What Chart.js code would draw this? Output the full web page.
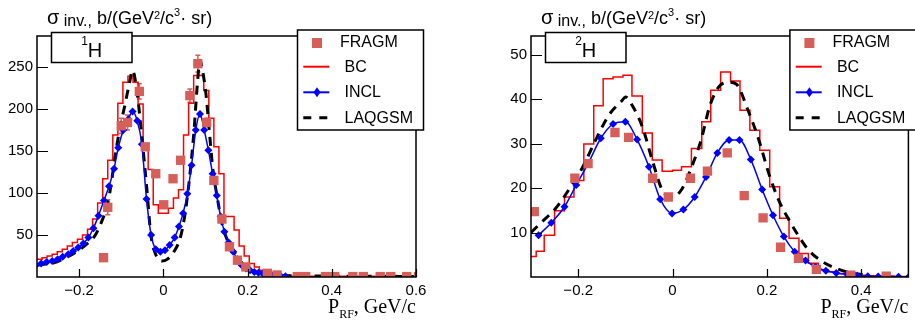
<!DOCTYPE html>
<html>
<head>
<meta charset="utf-8">
<script src="https://cdn.jsdelivr.net/npm/chart.js@4.4.1/dist/chart.umd.min.js"></script>
<style>
html, body { margin: 0; padding: 0; background: #fff; width: 915px; height: 323px; overflow: hidden; }
.panel { position: absolute; top: 0; height: 323px; }
</style>
</head>
<body>
<div class="panel" style="left:0;width:457px"><canvas id="h1" width="457" height="323"></canvas></div>
<div class="panel" style="left:457px;width:458px"><canvas id="h2" width="458" height="323"></canvas></div>
<script>
// ---- 1H panel ----
const h1FragmX = [-0.142, -0.132, -0.100, -0.085, -0.057, -0.043, -0.018, 0.001, 0.023, 0.041, 0.063, 0.082, 0.103, 0.120, 0.139, 0.157, 0.176, 0.196, 0.247, 0.270, 0.318, 0.338, 0.385, 0.407, 0.450, 0.475, 0.515, 0.540, 0.578, 0.606];
const h1FragmY = [23, 83, 180, 184, 221, 155, 123, 86, 117, 139, 216, 254, 184, 115, 69, 36, 20, 12, 4.4, 2.4, 0.5, 0.5, 0.5, 0.5, 0.5, 0.5, 0.5, 0.5, 0.5, 0.5];
const h1FragmErr = [0, 9, 9, 9, 9, 0, 0, 0, 0, 0, 8, 10, 5, 0, 0, 0, 0, 0, 0, 0, 0, 0, 0, 0, 0, 0, 0, 0, 0, 0];

const h1BcEdges = [-0.300, -0.288, -0.276, -0.264, -0.252, -0.240, -0.228, -0.216, -0.204, -0.192, -0.180, -0.168, -0.156, -0.144, -0.132, -0.120, -0.108, -0.096, -0.084, -0.072, -0.060, -0.048, -0.036, -0.024, -0.012, 0.000, 0.012, 0.024, 0.036, 0.048, 0.060, 0.072, 0.084, 0.096, 0.108, 0.120, 0.132, 0.144, 0.156, 0.168, 0.180, 0.192, 0.204, 0.216, 0.228, 0.240, 0.252, 0.264, 0.276, 0.288, 0.300, 0.400, 0.500, 0.600];
const h1BcY = [21, 23, 25, 27, 30, 33, 37, 41, 45, 50, 57, 69, 88, 117, 139, 169, 207, 232, 239, 232, 206, 153, 128, 86, 76, 76, 82, 94, 104, 169, 207, 240, 240, 222, 189, 155, 123, 72, 72, 56, 37, 25, 16, 12, 8, 6, 4, 3, 2.5, 2, 1, 1, 1];

const h1InclX = [-0.303, -0.290, -0.277, -0.264, -0.251, -0.239, -0.226, -0.214, -0.202, -0.190, -0.178, -0.166, -0.154, -0.141, -0.129, -0.117, -0.107, -0.095, -0.083, -0.073, -0.062, -0.051, -0.040, -0.029, -0.018, -0.007, 0.004, 0.015, 0.027, 0.037, 0.047, 0.057, 0.067, 0.077, 0.087, 0.097, 0.107, 0.117, 0.127, 0.136, 0.145, 0.155, 0.166, 0.176, 0.186, 0.196, 0.206, 0.216, 0.226, 0.236, 0.246, 0.257, 0.267, 0.278, 0.290];
const h1InclY = [14, 16, 18, 19, 21, 24, 27, 31, 35, 40, 47, 58, 73, 91, 108, 129, 154, 175, 188, 197, 186, 158, 93, 50, 33, 30, 32, 38, 47, 60, 76, 99, 133, 175, 194, 175, 151, 123, 97, 72, 54, 41, 30, 21, 14, 10, 8, 6, 5, 4, 3, 2.5, 2, 1.5, 1];

const h1LaqX = [-0.300, -0.280, -0.260, -0.240, -0.220, -0.200, -0.180, -0.164, -0.148, -0.132, -0.124, -0.116, -0.104, -0.092, -0.080, -0.073, -0.063, -0.051, -0.039, -0.030, -0.019, -0.003, 0.009, 0.025, 0.041, 0.053, 0.065, 0.073, 0.081, 0.087, 0.093, 0.101, 0.109, 0.117, 0.129, 0.139, 0.152, 0.166, 0.181, 0.202, 0.226, 0.260, 0.300, 0.400, 0.500, 0.600];
const h1LaqY = [14, 15.5, 17, 21, 26, 32, 40, 48, 64, 88, 110, 139, 175, 203, 232, 246, 222, 167, 104, 52, 28, 19, 21, 30, 48, 80, 131, 175, 231, 258, 246, 219, 175, 131, 92, 64, 44, 32, 20, 10, 5, 2.5, 1.5, 1, 0.8, 0.7];

const h1XTicks = [-0.2, 0, 0.2, 0.4, 0.6];
const h1YTicks = [50, 100, 150, 200, 250];

// ---- 2H panel ----
const h2FragmX = [-0.293, -0.207, -0.179, -0.122, -0.093, -0.042, -0.009, 0.038, 0.074, 0.116, 0.152, 0.192, 0.229, 0.267, 0.305, 0.378, 0.453];
const h2FragmY = [14.7, 22.2, 25.5, 32.5, 31.4, 22.2, 18.0, 22.2, 23.8, 27.9, 18.3, 13.3, 6.7, 4.2, 1.7, 0.4, 0.2];
const h2FragmErr = [0, 0, 0, 0.8, 0.8, 0, 0, 0, 0, 0, 0, 0, 0, 0, 0, 0, 0];

const h2BcEdges = [-0.300, -0.289, -0.272, -0.250, -0.229, -0.209, -0.188, -0.167, -0.147, -0.126, -0.105, -0.086, -0.064, -0.043, -0.022, 0.000, 0.019, 0.040, 0.062, 0.081, 0.102, 0.123, 0.143, 0.164, 0.185, 0.206, 0.227, 0.247, 0.268, 0.288, 0.309, 0.330, 0.350, 0.370, 0.390, 0.410, 0.430, 0.450, 0.470, 0.490, 0.500];
const h2BcY = [4.6, 5.8, 9.4, 14.9, 18.0, 21.7, 29.9, 38.5, 44.6, 45.0, 45.4, 40.7, 32.4, 26.3, 23.8, 24.0, 24.8, 28.9, 34.9, 42.0, 46.1, 44.1, 37.5, 33.0, 28.5, 20.3, 13.2, 8.7, 5.3, 3.1, 1.6, 1.2, 0.8, 0.6, 0.4, 0.3, 0.2, 0.2, 0.1, 0.1];

const h2InclX = [-0.284, -0.257, -0.229, -0.204, -0.179, -0.152, -0.126, -0.100, -0.075, -0.050, -0.026, -0.001, 0.023, 0.047, 0.071, 0.095, 0.120, 0.142, 0.166, 0.190, 0.213, 0.236, 0.259, 0.282, 0.303, 0.325, 0.347, 0.370, 0.392, 0.414, 0.436, 0.457, 0.479, 0.501];
const h2InclY = [9.4, 12.2, 15.8, 20.7, 25.5, 31.2, 34.4, 34.9, 30.9, 24.8, 17.5, 14.3, 15.2, 18.0, 22.5, 27.9, 30.8, 30.8, 26.4, 19.7, 13.9, 9.1, 5.7, 3.7, 2.3, 1.4, 0.9, 0.6, 0.3, 0.15, 0.1, 0.05, 0.05, 0.05];

const h2LaqX = [-0.300, -0.277, -0.248, -0.220, -0.190, -0.163, -0.135, -0.106, -0.100, -0.085, -0.064, -0.043, -0.022, 0.000, 0.020, 0.040, 0.060, 0.080, 0.102, 0.120, 0.135, 0.160, 0.183, 0.204, 0.225, 0.247, 0.268, 0.288, 0.317, 0.350, 0.380, 0.415];
const h2LaqY = [10.0, 12.4, 15.4, 19.6, 24.8, 30.8, 36.4, 39.8, 40.5, 38.5, 33.8, 26.3, 19.6, 18.0, 19.8, 24.6, 30.6, 38.8, 43.2, 43.8, 43.4, 37.5, 30.8, 23.3, 17.3, 12.8, 9.1, 6.1, 3.5, 1.8, 0.9, 0.4];

const h2XTicks = [-0.2, 0, 0.2, 0.4];
const h2YTicks = [10, 20, 30, 40, 50];

const SANS = '"Liberation Sans", Arial, Helvetica, sans-serif';
const SERIF = '"Liberation Serif", "Times New Roman", serif';
const FRAGM_COL = '#d65f5a';

function pts(xs, ys) {
    return xs.map((x, i) => ({ x: x, y: ys[i] }));
}

// bin edges -> stepped points, last edge repeats last value
function steps(edges, vals) {
    return edges.map((x, i) => ({ x: x, y: vals[Math.min(i, vals.length - 1)] }));
}

function fmt(v) {
    return v < 0 ? '\u2212' + Math.abs(v) : String(v);
}

function drawRich(ctx, x, base, parts) {
    let cx = x;
    for (let p of parts) {
        ctx.font = p.f;
        ctx.fillText(p.t, cx, base + (p.dy || 0));
        cx += ctx.measureText(p.t).width;
    }
    return cx;
}

function richWidth(ctx, parts) {
    let w = 0;
    for (let p of parts) {
        ctx.font = p.f;
        w += ctx.measureText(p.t).width;
    }
    return w;
}

function makePanel(id, p) {
    const deco = {
        id: 'rootDeco',
        beforeDatasetsDraw(chart) {
            // error bars of FRAGM
            const ctx = chart.ctx, xs = chart.scales.x, ys = chart.scales.y;
            ctx.save();
            ctx.strokeStyle = FRAGM_COL;
            ctx.lineWidth = 1.5;
            p.fragmX.forEach((x, i) => {
                const e = p.fragmErr[i];
                if (!e) return;
                const px = xs.getPixelForValue(x);
                const y1 = ys.getPixelForValue(p.fragmY[i] - e);
                const y2 = ys.getPixelForValue(p.fragmY[i] + e);
                ctx.beginPath();
                ctx.moveTo(px, y1); ctx.lineTo(px, y2);
                ctx.moveTo(px - 2.5, y1); ctx.lineTo(px + 2.5, y1);
                ctx.moveTo(px - 2.5, y2); ctx.lineTo(px + 2.5, y2);
                ctx.stroke();
            });
            ctx.restore();
        },
        afterDraw(chart) {
            const ctx = chart.ctx, a = chart.chartArea;
            const xs = chart.scales.x, ys = chart.scales.y;
            ctx.save();
            ctx.fillStyle = '#000';
            ctx.strokeStyle = '#000';
            ctx.lineWidth = 1.5;

            // frame
            ctx.strokeRect(a.left, a.top, a.right - a.left, a.bottom - a.top);

            // ticks inside
            ctx.beginPath();
            for (let v of p.yTicks) {
                const y = Math.round(ys.getPixelForValue(v)) + 0.5;
                ctx.moveTo(a.left, y); ctx.lineTo(a.left + 11, y);
            }
            for (let v of p.xTicks) {
                const x = Math.round(xs.getPixelForValue(v)) + 0.5;
                ctx.moveTo(x, a.bottom); ctx.lineTo(x, a.bottom - 8);
            }
            ctx.lineWidth = 1.2;
            ctx.stroke();

            // y title
            ctx.textAlign = 'left';
            ctx.textBaseline = 'alphabetic';
            drawRich(ctx, a.left + 10, 24, [
                { t: '\u03c3', f: '20px ' + SANS },
                { t: ' inv.,', f: '16px ' + SANS, dy: 1.5 },
                { t: ' b/(GeV', f: '18px ' + SANS },
                { t: '2', f: '11px ' + SANS, dy: -5 },
                { t: '/c', f: '18px ' + SANS },
                { t: '3', f: '11px ' + SANS, dy: -8 },
                { t: '\u00b7 sr)', f: '18px ' + SANS }
            ]);

            // x title
            const xt = [
                { t: 'P', f: '20px ' + SERIF },
                { t: 'RF', f: '12px ' + SERIF, dy: 5 },
                { t: ', GeV/c', f: '20px ' + SERIF }
            ];
            drawRich(ctx, a.right - richWidth(ctx, xt), 313, xt);

            // nucleus label box
            ctx.lineWidth = 1.5;
            const bx = a.left + 14.5, by = 32.5, bw = 80.5, bh = 30;
            ctx.fillStyle = '#fff';
            ctx.fillRect(bx, by, bw, bh);
            ctx.strokeRect(bx, by, bw, bh);
            ctx.fillStyle = '#000';
            const lt = [
                { t: p.massNum, f: '12px ' + SANS, dy: -12 },
                { t: 'H', f: '20px ' + SANS }
            ];
            drawRich(ctx, bx + (bw - richWidth(ctx, lt)) / 2, 57.3, lt);

            // legend box
            const lx = a.right - 118.5, ly = 30, lw = 126, lh = 100;
            ctx.fillStyle = '#fff';
            ctx.fillRect(lx, ly, lw, lh);
            ctx.strokeRect(lx, ly, lw, lh);
            ctx.fillStyle = '#000';
            ctx.font = '16px ' + SANS;
            ctx.fillText('FRAGM', lx + 42.5, ly + 16.7);
            ctx.fillText('BC', lx + 47, ly + 41.7);
            ctx.fillText('INCL', lx + 47, ly + 67.3);
            ctx.fillText('LAQGSM', lx + 47, ly + 92.8);

            ctx.fillStyle = FRAGM_COL;
            ctx.fillRect(lx + 14.5, ly + 8, 10, 10);

            ctx.strokeStyle = '#ff0000';
            ctx.lineWidth = 2;
            ctx.beginPath();
            ctx.moveTo(lx + 5.8, ly + 36.7); ctx.lineTo(lx + 31.8, ly + 36.7);
            ctx.stroke();

            ctx.strokeStyle = '#0000ff';
            ctx.fillStyle = '#0000ff';
            ctx.beginPath();
            ctx.moveTo(lx + 5.8, ly + 62.3); ctx.lineTo(lx + 31.8, ly + 62.3);
            ctx.stroke();
            ctx.beginPath();
            const dx = lx + 19.5, dy = ly + 62.3;
            ctx.moveTo(dx, dy - 5); ctx.lineTo(dx + 3.5, dy); ctx.lineTo(dx, dy + 5); ctx.lineTo(dx - 3.5, dy);
            ctx.closePath();
            ctx.fill();

            ctx.strokeStyle = '#000';
            ctx.lineWidth = 3;
            ctx.setLineDash([8, 8]);
            ctx.beginPath();
            ctx.moveTo(lx + 5.8, ly + 87.7); ctx.lineTo(lx + 31.8, ly + 87.7);
            ctx.stroke();
            ctx.setLineDash([]);

            ctx.restore();
        }
    };

    const tickFont = { family: SANS, size: 15 };

    new Chart(document.getElementById(id), {
        type: 'line',
        data: {
            datasets: [
                {
                    label: 'FRAGM',
                    data: pts(p.fragmX, p.fragmY),
                    showLine: false,
                    pointStyle: 'rect',
                    pointRadius: 6.6,
                    pointBorderWidth: 0,
                    pointBackgroundColor: FRAGM_COL,
                    pointBorderColor: FRAGM_COL,
                    order: 0
                },
                {
                    label: 'BC',
                    data: steps(p.bcEdges, p.bcY),
                    stepped: true,
                    borderColor: '#ff0000',
                    borderWidth: 1.5,
                    pointRadius: 0,
                    fill: false,
                    order: 3
                },
                {
                    label: 'INCL',
                    data: pts(p.inclX, p.inclY),
                    borderColor: '#0000ff',
                    backgroundColor: '#0000ff',
                    borderWidth: 1.5,
                    cubicInterpolationMode: 'monotone',
                    pointStyle: 'rectRot',
                    pointRadius: 4,
                    pointBorderWidth: 0,
                    pointBackgroundColor: '#0000ff',
                    fill: false,
                    order: 1
                },
                {
                    label: 'LAQGSM',
                    data: pts(p.laqX, p.laqY),
                    borderColor: '#000000',
                    borderWidth: 3,
                    borderDash: [9, 7],
                    cubicInterpolationMode: 'monotone',
                    pointRadius: 0,
                    fill: false,
                    order: 2
                }
            ]
        },
        options: {
            responsive: false,
            animation: false,
            devicePixelRatio: 1,
            layout: { padding: { top: 36, right: p.padRight, left: 0, bottom: 0 } },
            plugins: { legend: { display: false }, tooltip: { enabled: false } },
            scales: {
                x: {
                    type: 'linear',
                    min: p.xMin,
                    max: p.xMax,
                    afterFit: s => { s.height = 46; },
                    afterBuildTicks: s => { s.ticks = p.xTicks.map(v => ({ value: v })); },
                    grid: { display: false, drawTicks: false },
                    border: { display: false },
                    ticks: { font: tickFont, color: '#000', padding: 5, maxRotation: 0, autoSkip: false, callback: fmt }
                },
                y: {
                    type: 'linear',
                    min: 0,
                    max: p.yMax,
                    afterFit: s => { s.width = p.yWidth; },
                    afterBuildTicks: s => { s.ticks = p.yTicks.map(v => ({ value: v })); },
                    grid: { display: false, drawTicks: false },
                    border: { display: false },
                    ticks: { font: tickFont, color: '#000', padding: 4, autoSkip: false, callback: fmt }
                }
            }
        },
        plugins: [deco]
    });
}

makePanel('h1', {
    massNum: '1',
    fragmX: h1FragmX, fragmY: h1FragmY, fragmErr: h1FragmErr,
    bcEdges: h1BcEdges, bcY: h1BcY,
    inclX: h1InclX, inclY: h1InclY,
    laqX: h1LaqX, laqY: h1LaqY,
    xTicks: h1XTicks, yTicks: h1YTicks,
    xMin: -0.3, xMax: 0.6, yMax: 287,
    yWidth: 37, padRight: 41
});

makePanel('h2', {
    massNum: '2',
    fragmX: h2FragmX, fragmY: h2FragmY, fragmErr: h2FragmErr,
    bcEdges: h2BcEdges, bcY: h2BcY,
    inclX: h2InclX, inclY: h2InclY,
    laqX: h2LaqX, laqY: h2LaqY,
    xTicks: h2XTicks, yTicks: h2YTicks,
    xMin: -0.3, xMax: 0.5, yMax: 54.2,
    yWidth: 74, padRight: 6
});
</script>
</body>
</html>
